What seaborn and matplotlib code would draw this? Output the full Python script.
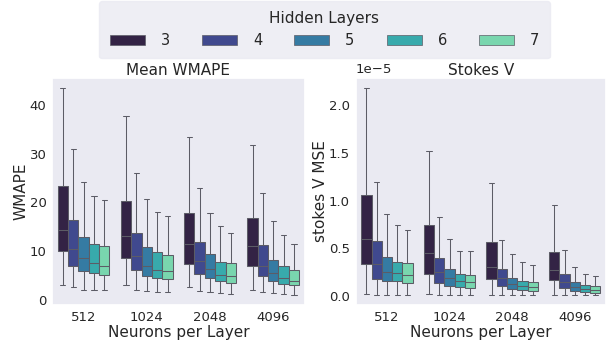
import numpy as np
import pandas as pd
import matplotlib
matplotlib.use("Agg")
import matplotlib.pyplot as plt
import seaborn as sns

neurons = ["512", "1024", "2048", "4096"]
layers = ["3", "4", "5", "6", "7"]

# five-number summaries [min, q1, median, q3, max] per (neurons, layers)
wmape_stats = {
    "512":  [[3.0, 10.0, 14.3, 23.3, 43.5], [2.5, 7.0, 10.5, 16.3, 31.0], [2.0, 5.8, 8.5, 12.8, 24.3],
             [2.0, 5.5, 7.5, 11.4, 21.4], [2.0, 5.0, 6.8, 11.0, 20.5]],
    "1024": [[3.0, 8.5, 13.0, 20.2, 37.7], [2.0, 6.1, 9.0, 13.7, 26.1], [1.8, 4.8, 7.0, 10.9, 20.7],
             [1.5, 4.5, 6.0, 9.7, 18.1], [1.5, 4.3, 5.9, 9.2, 17.1]],
    "2048": [[2.5, 7.4, 11.5, 17.8, 33.4], [1.8, 5.3, 8.0, 11.9, 23.0], [1.5, 4.5, 6.2, 9.3, 17.8],
             [1.3, 3.8, 5.0, 7.8, 15.2], [1.2, 3.5, 4.8, 7.5, 13.8]],
    "4096": [[2.0, 6.8, 11.0, 16.8, 31.9], [1.6, 4.8, 7.0, 11.2, 21.9], [1.3, 3.8, 5.5, 8.1, 16.1],
             [1.1, 3.2, 4.5, 6.8, 13.3], [1.0, 2.9, 3.8, 6.1, 11.4]],
}
stokes_stats = {  # units of 1e-5
    "512":  [[0.02, 0.33, 0.60, 1.06, 2.18], [0.01, 0.17, 0.33, 0.57, 1.19], [0.01, 0.15, 0.25, 0.41, 0.86],
             [0.01, 0.15, 0.24, 0.35, 0.74], [0.01, 0.13, 0.22, 0.34, 0.69]],
    "1024": [[0.02, 0.23, 0.45, 0.74, 1.52], [0.01, 0.13, 0.25, 0.40, 0.83], [0.01, 0.10, 0.18, 0.28, 0.60],
             [0.01, 0.09, 0.15, 0.23, 0.47], [0.01, 0.08, 0.14, 0.22, 0.47]],
    "2048": [[0.01, 0.17, 0.30, 0.56, 1.18], [0.01, 0.10, 0.18, 0.28, 0.58], [0.01, 0.07, 0.12, 0.19, 0.44],
             [0.01, 0.06, 0.10, 0.15, 0.35], [0.01, 0.05, 0.09, 0.14, 0.32]],
    "4096": [[0.01, 0.16, 0.27, 0.46, 0.95], [0.01, 0.08, 0.14, 0.23, 0.48], [0.01, 0.05, 0.09, 0.14, 0.30],
             [0.01, 0.04, 0.07, 0.11, 0.23], [0.01, 0.03, 0.06, 0.10, 0.21]],
}
offset_label = "1e\u22125"


def to_frame(stats, col, scale=1.0):
    rows = []
    for n in neurons:
        for li, l in enumerate(layers):
            for v in stats[n][li]:
                rows.append({"Neurons per Layer": n, "Hidden Layers": l, col: v * scale})
    return pd.DataFrame(rows)


df_w = to_frame(wmape_stats, "WMAPE")
df_s = to_frame(stokes_stats, "stokes V MSE", 1e-5)

sns.set_theme(style="dark", rc={"axes.facecolor": "#EAEAF2"})
plt.rcParams["font.family"] = ["DejaVu Sans"]
palette = sns.color_palette("mako", 5)
line_col = "#5c5c66"

fig = plt.figure(figsize=(6.11, 3.45), dpi=100)
ax1 = fig.add_axes([0.085, 0.116, 0.414, 0.658])
ax2 = fig.add_axes([0.582, 0.116, 0.410, 0.658])

common = dict(x="Neurons per Layer", hue="Hidden Layers", palette=palette, saturation=1,
              whis=(0, 100), showfliers=False, width=0.82, linewidth=0.75, linecolor=line_col)
sns.boxplot(data=df_w, y="WMAPE", ax=ax1, **common)
sns.boxplot(data=df_s, y="stokes V MSE", ax=ax2, **common)

fs_lab = 11
fs_tick = 9.5
ax1.set_title("Mean WMAPE", fontsize=fs_lab, pad=2)
ax2.set_title("Stokes V", fontsize=fs_lab, pad=2)
for ax in (ax1, ax2):
    ax.set_xlabel("Neurons per Layer", fontsize=fs_lab, labelpad=1)
    ax.tick_params(labelsize=fs_tick, length=0, pad=4)
    ax.get_legend().remove()
ax1.set_ylabel("WMAPE", fontsize=fs_lab, labelpad=1)
ax2.set_ylabel("stokes V MSE", fontsize=fs_lab, labelpad=1)
ax1.set_yticks([0, 10, 20, 30, 40])
ax2.set_yticks([0, 0.5e-5, 1.0e-5, 1.5e-5, 2.0e-5])
ax2.yaxis.get_offset_text().set_visible(False)
ax2.text(0.0, 1.01, offset_label, transform=ax2.transAxes, ha="left", va="bottom",
         fontsize=fs_tick, color=".15")

handles = [plt.Rectangle((0, 0), 1, 1, facecolor=palette[i], edgecolor=line_col, linewidth=0.5)
           for i in range(5)]
leg = fig.legend(handles, layers, title="Hidden Layers", ncol=5, loc="upper center",
                 bbox_to_anchor=(0.531, 1.0), borderaxespad=0.05, borderpad=0.7,
                 fontsize=10.5, title_fontsize=11,
                 handlelength=2.4, handleheight=0.7, handletextpad=1.1, columnspacing=2.2,
                 labelspacing=0.5, frameon=True, facecolor="#EAEAF2", edgecolor="#EAEAF2")

fig.savefig("out.png", dpi=100)
